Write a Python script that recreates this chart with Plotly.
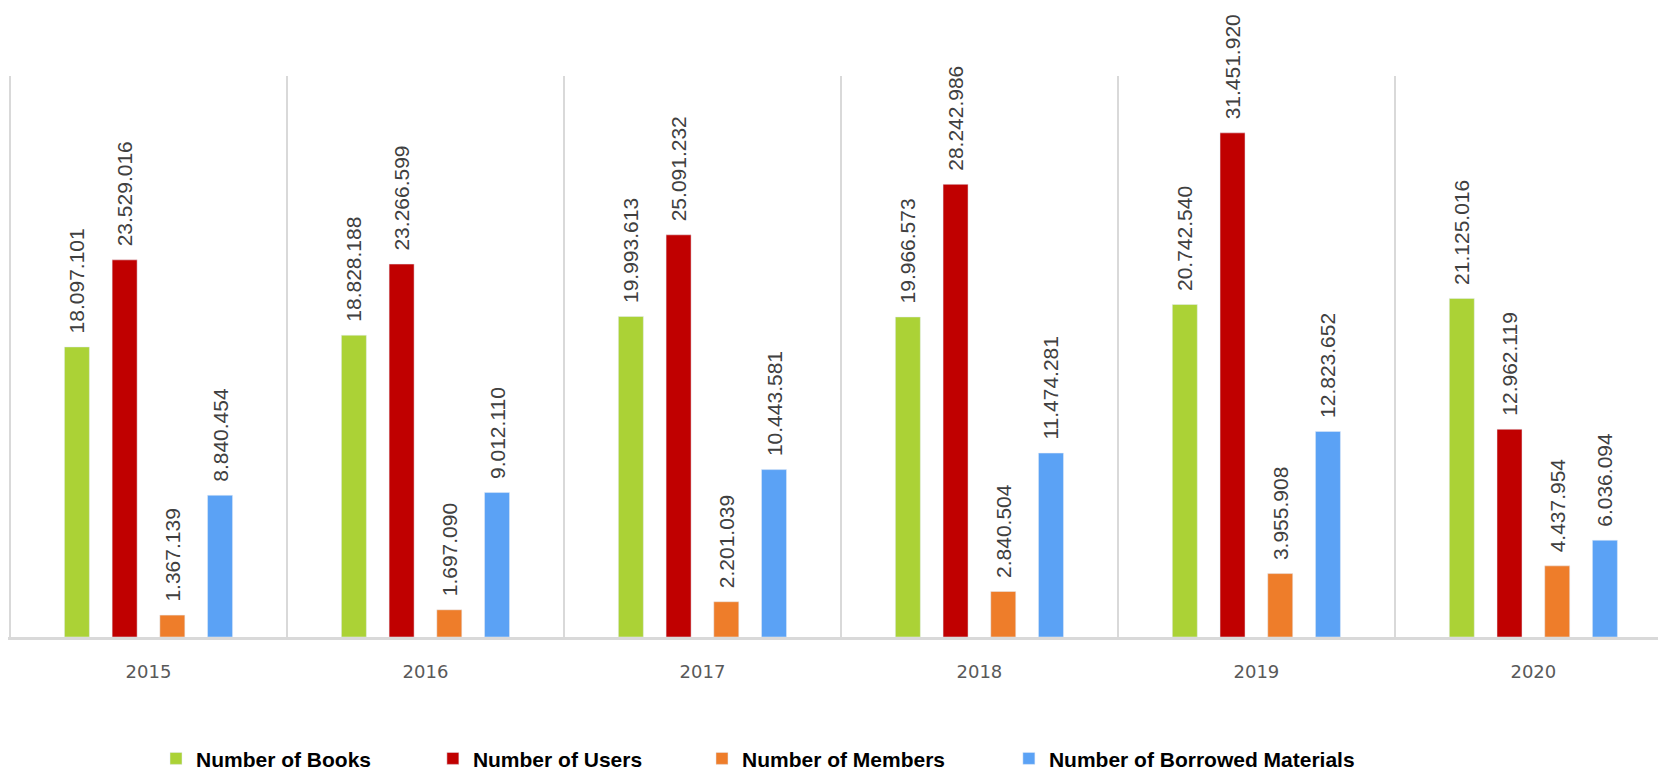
import plotly.graph_objects as go

years = ["2015", "2016", "2017", "2018", "2019", "2020"]
books = [18097101, 18828188, 19993613, 19966573, 20742540, 21125016]
users = [23529016, 23266599, 25091232, 28242986, 31451920, 12962119]
members = [1367139, 1697090, 2201039, 2840504, 3955908, 4437954]
borrowed = [8840454, 9012110, 10443581, 11474281, 12823652, 6036094]

series_names = ["Number of Books", "Number of Users", "Number of Members", "Number of Borrowed Materials"]
series_values = [books, users, members, borrowed]
colors = ["#ABD236", "#C00000", "#EE7D2A", "#5BA2F5"]
legend_ids = ["legend", "legend2", "legend3", "legend4"]
legend_x = [0.0897, 0.2575, 0.4206, 0.6066]

fig = go.Figure()
for name, vals, col, lid in zip(series_names, series_values, colors, legend_ids):
    fig.add_trace(go.Bar(
        x=years, y=vals, name=name, marker_color=col,
        texttemplate="\u2002%{y:,}", textposition="outside", textangle=-90,
        textfont=dict(family="Liberation Sans, Arial", size=21, color="#404040"),
        cliponaxis=False, constraintext="none", legend=lid,
    ))

legend_common = dict(orientation="h", yanchor="middle", y=-0.217, xanchor="left",
                     font=dict(family="Liberation Sans, Arial", size=21, color="#000000", weight="bold"),
                     bgcolor="rgba(0,0,0,0)")
layout_legends = {}
for lid, lx in zip(legend_ids, legend_x):
    layout_legends[lid] = dict(legend_common, x=lx)

fig.update_layout(
    width=1658, height=770,
    margin=dict(l=8, r=0, t=76, b=133, autoexpand=False),
    paper_bgcolor="white", plot_bgcolor="white",
    separators=",.",
    barmode="group", bargap=0.311, bargroupgap=0.476,
    showlegend=True,
    xaxis=dict(type="category", range=[-0.5072, 5.45], tickson="boundaries",
               showgrid=True, gridcolor="#D9D9D9", gridwidth=2,
               showline=True, linecolor="#D9D9D9", linewidth=3,
               ticks="", ticklabelstandoff=16,
               tickfont=dict(family="DejaVu Sans", size=18, color="#595959")),
    yaxis=dict(range=[0, 35000000], visible=False),
    **layout_legends,
)

fig.write_html("out.html", config={"displayModeBar": False},
               post_script="document.body.style.margin='0';document.body.style.overflow='hidden';")
